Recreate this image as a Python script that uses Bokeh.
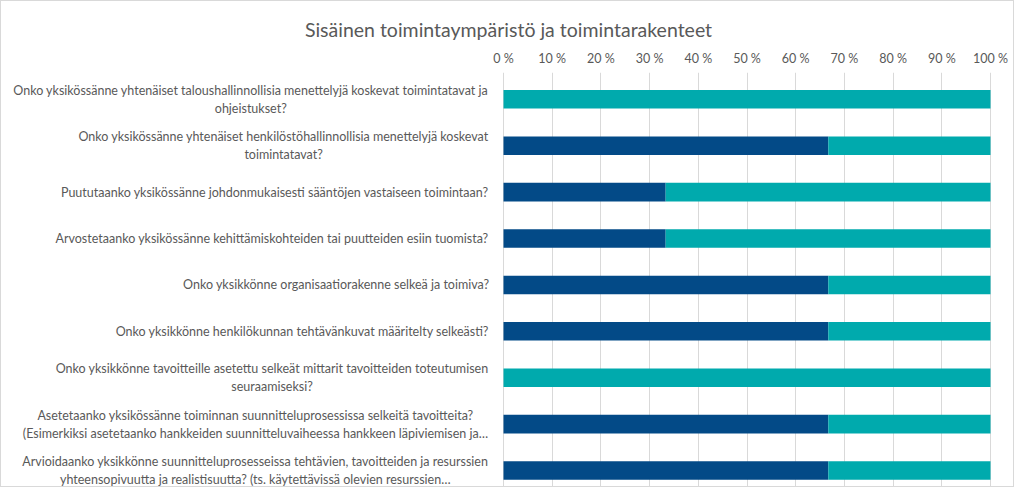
from bokeh.plotting import figure
from bokeh.models import ColumnDataSource, Range1d, FixedTicker
from bokeh.core.properties import value
from bokeh.embed import file_html
from bokeh.resources import INLINE

# ---------------- data ----------------
questions = [
    "Onko yksikössänne yhtenäiset taloushallinnollisia menettelyjä koskevat toimintatavat ja\nohjeistukset?",
    "Onko yksikössänne yhtenäiset henkilöstöhallinnollisia menettelyjä koskevat\ntoimintatavat?",
    "Puututaanko yksikössänne johdonmukaisesti sääntöjen vastaiseen toimintaan?",
    "Arvostetaanko yksikössänne kehittämiskohteiden tai puutteiden esiin tuomista?",
    "Onko yksikkönne organisaatiorakenne selkeä ja toimiva?",
    "Onko yksikkönne henkilökunnan tehtävänkuvat määritelty selkeästi?",
    "Onko yksikkönne tavoitteille asetettu selkeät mittarit tavoitteiden toteutumisen\nseuraamiseksi?",
    "Asetetaanko yksikössänne toiminnan suunnitteluprosessissa selkeitä tavoitteita?\n(Esimerkiksi asetetaanko hankkeiden suunnitteluvaiheessa hankkeen läpiviemisen ja…",
    "Arvioidaanko yksikkönne suunnitteluprosesseissa tehtävien, tavoitteiden ja resurssien\nyhteensopivuutta ja realistisuutta? (ts. käytettävissä olevien resurssien…",
]
vastaus_1 = [0, 66.7, 33.3, 33.3, 66.7, 66.7, 0, 66.7, 66.7]
vastaus_2 = [100, 33.3, 66.7, 66.7, 33.3, 33.3, 100, 33.3, 33.3]
tick_values = [0, 10, 20, 30, 40, 50, 60, 70, 80, 90, 100]
tick_labels = ["0 %", "10 %", "20 %", "30 %", "40 %", "50 %", "60 %", "70 %", "80 %", "90 %", "100 %"]
title_text = "Sisäinen toimintaympäristö ja toimintarakenteet"

# ---------------- style / layout ----------------
FONT = "Lato"
LABEL_SIZE = 12.5
TEXT_COLOR = "#595959"
DARK = "#034A87"
TEAL = "#00AAAD"
GRID = "#D9D9D9"

W, H = 1014, 487
TOP = 71
ZERO_PX = 502.0      # x pixel of 0 % inside the frame
PX_PER = 4.87        # pixels per percent
LABEL_RIGHT_PX = 490.0
WIDTH_FACTOR = 1.015  # browser vs. PIL text width
Y_END = 9.078
Y_START = 0.112


def text_width(s, size):
    try:
        from PIL import ImageFont
        f = ImageFont.truetype("/usr/share/fonts/truetype/lato/Lato-Regular.ttf", size)
        return f.getlength(s) * WIDTH_FACTOR
    except Exception:
        return len(s) * 0.46 * size


n = len(questions)
row_pos = [n - 0.5 - i for i in range(n)]   # first question on top

label_x = []
for q in questions:
    maxw = max(text_width(line, LABEL_SIZE) for line in q.split("\n"))
    cx_px = LABEL_RIGHT_PX - maxw / 2.0
    label_x.append((cx_px - ZERO_PX) / PX_PER)

source = ColumnDataSource(dict(
    question=questions,
    row=row_pos,
    vastaus_1=vastaus_1,
    vastaus_2=vastaus_2,
    label_x=label_x,
))

p = figure(
    width=W, height=H,
    y_range=Range1d(Y_START, Y_END),
    x_range=Range1d(-ZERO_PX / PX_PER, (W - ZERO_PX) / PX_PER),
    x_axis_location="above", y_axis_location=None,
    output_backend="svg", toolbar_location=None,
    min_border_left=0, min_border_right=0, min_border_bottom=0, min_border_top=TOP,
    title=title_text,
)
p.styles = {"border": "1px solid #D9D9D9"}
p.outline_line_color = None
p.background_fill_color = "white"
p.border_fill_color = "white"

p.title.align = "center"
p.title.offset = 3
p.title.standoff = 14
p.title.text_font = FONT
p.title.text_font_size = "19.5px"
p.title.text_font_style = "normal"
p.title.text_color = TEXT_COLOR

p.hbar_stack(["vastaus_1", "vastaus_2"], y="row", height=0.4,
             color=[DARK, TEAL], line_color=None, source=source)

p.text(x="label_x", y="row", text="question", source=source,
       text_align="center", text_baseline="middle",
       text_font=value(FONT), text_font_size=f"{LABEL_SIZE}px",
       text_color=TEXT_COLOR, text_line_height=1.2)

ax = p.xaxis[0]
ax.ticker = FixedTicker(ticks=tick_values)
ax.major_label_overrides = {v: lab for v, lab in zip(tick_values, tick_labels)}
ax.axis_line_color = None
ax.major_tick_line_color = None
ax.minor_tick_line_color = None
ax.major_label_text_font = FONT
ax.major_label_text_font_size = f"{LABEL_SIZE}px"
ax.major_label_text_color = TEXT_COLOR
ax.major_label_standoff = 1

p.xgrid.grid_line_color = GRID
p.ygrid.grid_line_color = None

open("out.html", "w").write(file_html(p, INLINE))
